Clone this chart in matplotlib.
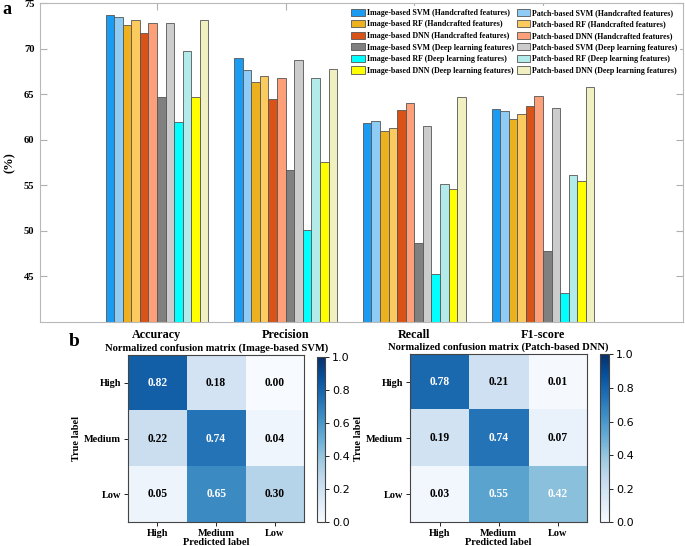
import numpy as np
import matplotlib
matplotlib.use("Agg")
import matplotlib.pyplot as plt

plt.rcParams["font.family"] = ["Liberation Serif", "DejaVu Serif"]
plt.rcParams["font.weight"] = "bold"

metrics = ["Accuracy", "Precision", "Recall", "F1-score"]
series_names = [
    "Image-based SVM (Handcrafted features)",
    "Patch-based SVM (Handcrafted features)",
    "Image-based RF (Handcrafted features)",
    "Patch-based RF (Handcrafted features)",
    "Image-based DNN (Handcrafted features)",
    "Patch-based DNN (Handcrafted features)",
    "Image-based SVM (Deep learning features)",
    "Patch-based SVM (Deep learning features)",
    "Image-based RF (Deep learning features)",
    "Patch-based RF (Deep learning features)",
    "Image-based DNN (Deep learning features)",
    "Patch-based DNN (Deep learning features)",
]
series_colors = ["#1a9cf2", "#8ecbf5", "#edb120", "#fbcb60", "#d95319", "#fd9f78",
                 "#808080", "#cccccc", "#00ffff", "#b3ebeb", "#ffff00", "#f0f0c0"]

# one value per series, same order as series_names
accuracy = [73.7, 73.5, 72.6, 73.1, 71.7, 72.8, 64.7, 72.8, 61.9, 69.7, 64.7, 73.1]
precision = [69.0, 67.6, 66.3, 67.0, 64.5, 66.8, 56.7, 68.7, 50.1, 66.8, 57.6, 67.8]
recall = [61.8, 62.0, 61.0, 61.3, 63.3, 64.0, 48.7, 61.5, 45.3, 55.1, 54.6, 64.7]
f1_score = [63.4, 63.2, 62.3, 62.8, 63.7, 64.8, 47.8, 63.5, 43.2, 56.1, 55.5, 65.8]

classes = ["High", "Medium", "Low"]
cm_image_svm = [[0.82, 0.18, 0.00],
                [0.22, 0.74, 0.04],
                [0.05, 0.65, 0.30]]
cm_patch_dnn = [[0.78, 0.21, 0.01],
                [0.19, 0.74, 0.07],
                [0.03, 0.55, 0.42]]

fig = plt.figure(figsize=(6.85, 5.46), dpi=100)

# ---- panel a: grouped bars
ax = fig.add_axes([0.0584, 0.4103, 0.9386, 0.5842])
values = np.array([accuracy, precision, recall, f1_score])
x = np.arange(1, len(metrics) + 1)
n = len(series_names)
w = 0.8 / n
bars = []
for j in range(n):
    b = ax.bar(x + (j - (n - 1) / 2) * w, values[:, j], w, color=series_colors[j],
               edgecolor="#555555", linewidth=0.6, label=series_names[j])
    bars.append(b)

ax.set_xlim(0.0907, 5.088)
ax.set_ylim(40, 75)
ax.set_yticks([45, 50, 55, 60, 65, 70, 75])
ax.set_xticks(x)
ax.set_xticklabels(metrics, fontsize=8.7, fontweight="bold")
ax.tick_params(axis="y", direction="in", length=5, color="#b0b0b0", labelsize=7.6,
               right=True, pad=4)
ax.tick_params(axis="x", direction="in", length=5, color="#b0b0b0", top=True,
               bottom=False, pad=5)
for s in ax.spines.values():
    s.set_color("#b8b8b8")
    s.set_linewidth(0.8)
ax.set_ylabel("(%)", fontsize=9, fontweight="bold", labelpad=6)

# matplotlib fills legend columns first, so put image-based left, patch-based right
order = list(range(0, n, 2)) + list(range(1, n, 2))
leg = ax.legend([bars[i] for i in order], [series_names[i] for i in order],
                ncol=2, loc="upper right", bbox_to_anchor=(0.995, 0.99),
                fontsize=5.7, frameon=True, fancybox=False, edgecolor="none",
                facecolor="white", framealpha=1, handlelength=1.7, handleheight=1.0,
                labelspacing=0.42, handletextpad=0.25, columnspacing=0.3,
                borderpad=0.3, borderaxespad=0)
for t in leg.get_texts():
    t.set_fontweight("bold")

fig.text(0.003, 0.983, "a", fontsize=13, fontweight="bold", va="center")
fig.text(0.108, 0.374, "b", fontsize=14, fontweight="bold", va="center", ha="center")


# ---- panel b: confusion matrices
def draw_cm(rect, crect, cm, title):
    cm = np.array(cm)
    axm = fig.add_axes(rect)
    im = axm.imshow(cm, cmap="Blues", vmin=0, vmax=1, aspect="auto")
    thresh = (cm.max() + cm.min()) / 2
    for i in range(cm.shape[0]):
        for k in range(cm.shape[1]):
            axm.text(k, i, f"{cm[i, k]:.2f}", ha="center", va="center", fontsize=8.3,
                     fontweight="bold", color="white" if cm[i, k] > thresh else "black")
    axm.set_xticks(range(len(classes)))
    axm.set_yticks(range(len(classes)))
    axm.set_xticklabels(classes, fontsize=7.4, fontweight="bold")
    axm.set_yticklabels(classes, fontsize=7.4, fontweight="bold")
    axm.tick_params(length=3, width=0.6, pad=2)
    axm.set_xlabel("Predicted label", fontsize=7.5, fontweight="bold", labelpad=0)
    axm.set_ylabel("True label", fontsize=7.4, fontweight="bold", labelpad=2)
    axm.set_title(title, fontsize=7.6, fontweight="bold", pad=3)
    for s in axm.spines.values():
        s.set_color("#444444")
        s.set_linewidth(0.8)
    cax = fig.add_axes(crect)
    cb = fig.colorbar(im, cax=cax, ticks=[0, 0.2, 0.4, 0.6, 0.8, 1.0])
    cb.ax.set_yticklabels(["0.0", "0.2", "0.4", "0.6", "0.8", "1.0"],
                          fontsize=8, fontweight="normal", family="DejaVu Sans")
    cb.ax.tick_params(length=3, width=0.6, pad=2)
    cb.outline.set_edgecolor("#444444")
    cb.outline.set_linewidth(0.8)


draw_cm([0.1869, 0.0434, 0.2574, 0.3064], [0.4623, 0.0434, 0.0124, 0.3028],
        cm_image_svm, "Normalized confusion matrix (Image-based SVM)")
draw_cm([0.5985, 0.0434, 0.2588, 0.3077], [0.8759, 0.0434, 0.0136, 0.3077],
        cm_patch_dnn, "Normalized confusion matrix (Patch-based DNN)")

fig.savefig("out.png", dpi=100)
